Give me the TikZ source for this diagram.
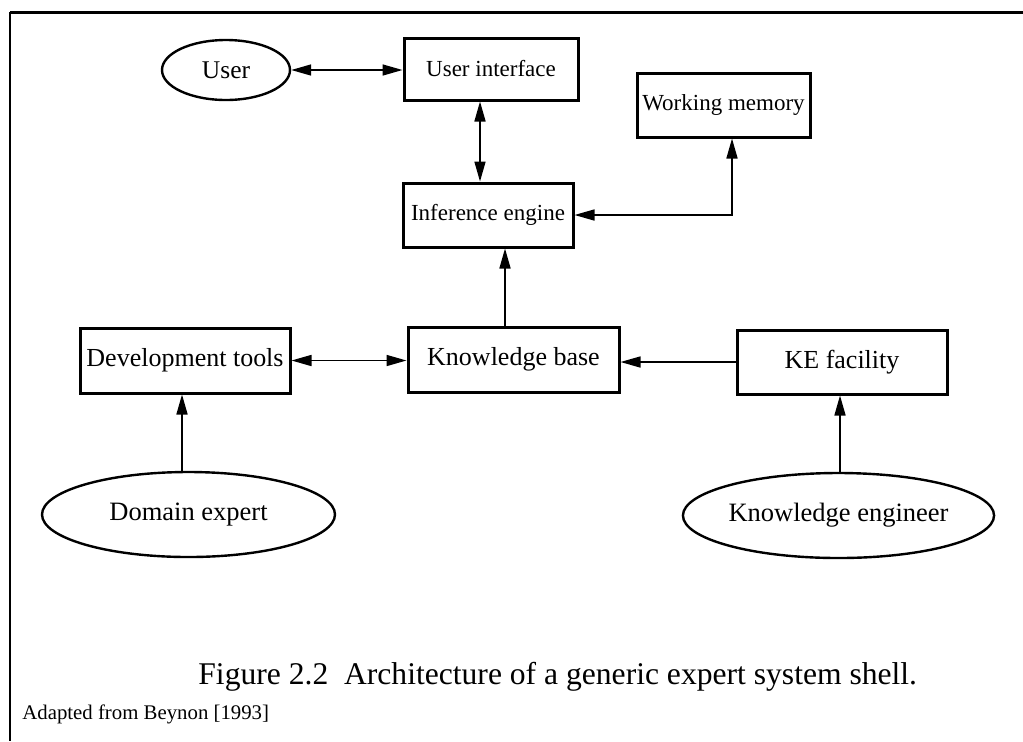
\documentclass[tikz,border=0pt]{standalone}
\usepackage{fontspec}
\setmainfont{Liberation Serif}
\usetikzlibrary{arrows.meta,shapes.geometric}
\begin{document}
\begin{tikzpicture}[x=0.5pt,y=-0.5pt,
  topbox/.style={draw, rectangle, line width=1.5pt, inner sep=0pt,
    font=\fontsize{11.5}{13}\selectfont},
  lowbox/.style={draw, rectangle, line width=1.5pt, inner sep=0pt,
    font=\fontsize{13}{15}\selectfont},
  actor/.style={draw, ellipse, line width=1.2pt, inner sep=0pt,
    font=\fontsize{13.25}{15}\selectfont},
  tip/.tip={Triangle[length=10pt,width=5.5pt]},
  link/.style={line width=0.8pt, -tip},
  both/.style={line width=0.8pt, tip-tip}]
  \useasboundingbox (0,0) rectangle (1023,741);

  % frame: top rule and left rule
  \draw[line width=1.5pt] (1023,12) -- (10,12);
  \draw[line width=1pt] (10,12) -- (10,741);

  % nodes
  \node[actor, minimum width=64pt, minimum height=30pt,
        font=\fontsize{12.75}{15}\selectfont] (user) at (226,70) {User};
  \node[topbox, minimum width=87pt, minimum height=31pt] (ui) at (491,69) {User interface};
  \node[topbox, minimum width=86.5pt, minimum height=32pt] (wm) at (723.5,105) {Working memory};
  \node[topbox, minimum width=85pt, minimum height=32pt] (ie) at (488,215) {Inference engine};
  \node[lowbox, minimum width=105pt, minimum height=32.5pt] (dt) at (185,360.5) {Development tools};
  \node[lowbox, minimum width=105.5pt, minimum height=32.5pt] (kb) at (513.5,359.5) {Knowledge base};
  \node[lowbox, minimum width=105pt, minimum height=32pt] (kef) at (842,362) {KE facility};
  \node[actor, minimum width=146.5pt, minimum height=42.5pt] (de) at (188.5,514.5) {Domain expert};
  \node[actor, minimum width=146.5pt, minimum height=42.5pt] (ken) at (838.5,515.5) {Knowledge engineer};

  % connectors
  \draw[both] (user.east) -- (user.east -| ui.west);
  \draw[both] ([xshift=-5.5pt]ui.south) -- ([xshift=-5.5pt]ui.south |- ie.north);
  \draw[both] (ie.east) -| ([xshift=4.25pt]wm.south);
  \draw[link] ([xshift=-4.25pt]kb.north) -- ([xshift=-4.25pt]kb.north |- ie.south);
  \draw[both] (dt.east) -- (dt.east -| kb.west);
  \draw[link] (kef.west) -- (kef.west -| kb.east);
  \draw[link] ([xshift=-3.25pt]de.north) -- ([xshift=-3.25pt]de.north |- dt.south);
  \draw[link] ([xshift=0.75pt]ken.north) -- ([xshift=0.75pt]ken.north |- kef.south);

  % caption and source note
  \node[anchor=base west, inner sep=0pt, font=\fontsize{15.8}{18}\selectfont]
    (caption) at (198,684) {Figure 2.2\ \ Architecture of a generic expert system shell.};
  \node[anchor=base west, inner sep=0pt, font=\fontsize{10.4}{12}\selectfont]
    (source) at (22,719) {Adapted from Beynon [1993]};
\end{tikzpicture}
\end{document}
